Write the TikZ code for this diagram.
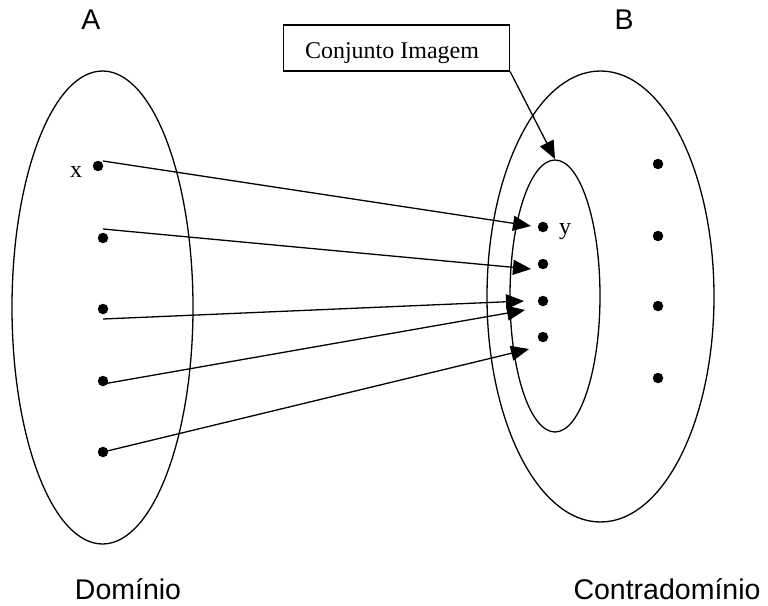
\documentclass[tikz,border=0pt]{standalone}
\usepackage{fontspec}
\setmainfont{Liberation Serif}
\newfontfamily\sansf{Liberation Sans}
\usetikzlibrary{arrows.meta}
\begin{document}
\begin{tikzpicture}[x=1pt,y=-1pt,
  line width=1.3pt,
  dotnode/.style={circle,fill=black,draw=none,minimum size=10.5pt,inner sep=0pt},
  bigsans/.style={font=\sansf\fontsize{28.5}{30}\selectfont,inner sep=0pt,anchor=base},
  serif/.style={font=\fontsize{24}{26}\selectfont,inner sep=0pt,anchor=base},
  maparrow/.style={-{Triangle[length=18pt,width=15pt]}}]
\useasboundingbox (0,0) rectangle (768,605);
% sets
\draw (102.5,307.5) ellipse [x radius=90.5, y radius=236.5];
\draw (600.5,296.5) ellipse [x radius=113.5, y radius=225.5];
\draw (555,296) ellipse [x radius=45, y radius=136];
% labels
\node[bigsans] (lA) at (91,29) {A};
\node[bigsans] (lB) at (624,29) {B};
\node[bigsans] (ldom) at (128,599) {Domínio};
\node[bigsans] (lcd) at (667,599) {Contradomínio};
% box
\node[draw,minimum width=226pt,minimum height=46pt,inner sep=0pt] (box) at (396.5,48) {};
\node[serif] (boxt) at (392,58) {Conjunto Imagem};
% domain dots
\node[dotnode] (a1) at (98,166) {};
\node[dotnode] (a2) at (103,238) {};
\node[dotnode] (a3) at (103,309) {};
\node[dotnode] (a4) at (103,381) {};
\node[dotnode] (a5) at (103,452) {};
\node[serif] (lx) at (76,177) {x};
% image dots
\node[dotnode] (b1) at (543,227) {};
\node[dotnode] (b2) at (543,264) {};
\node[dotnode] (b3) at (543,301) {};
\node[dotnode] (b4) at (543,337) {};
\node[serif] (ly) at (565,234) {y};
% codomain dots
\node[dotnode] (c1) at (658,164) {};
\node[dotnode] (c2) at (658,236) {};
\node[dotnode] (c3) at (658,306) {};
\node[dotnode] (c4) at (658,378) {};
% arrow endpoints
\coordinate (s1) at (103,161);
\coordinate (s2) at (103,229);
\coordinate (s3) at (103,319);
\coordinate (s4) at (103,384);
\coordinate (s5) at (103,452);
\coordinate (t1) at (531,226);
\coordinate (t2) at (531,269);
\coordinate (t3) at (524,301);
\coordinate (t4) at (525,310);
\coordinate (t5) at (529,349);
\coordinate (timg) at (555,159);
\draw[maparrow] (s1) -- (t1);
\draw[maparrow] (s2) -- (t2);
\draw[maparrow] (s3) -- (t3);
\draw[maparrow] (s4) -- (t4);
\draw[maparrow] (s5) -- (t5);
\draw[maparrow] (box.south east) -- (timg);
\end{tikzpicture}
\end{document}
